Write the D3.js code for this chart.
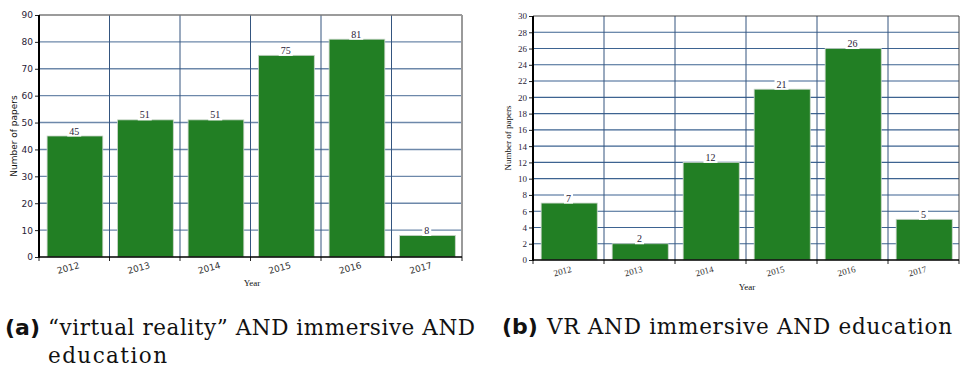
<!DOCTYPE html>
<html>
<head>
<meta charset="utf-8">
<script src="https://cdn.jsdelivr.net/npm/d3@7"></script>
<style>
  html, body { margin: 0; padding: 0; background: #fff; }
  svg { display: block; }
</style>
</head>
<body>
<svg id="fig" width="960" height="374"></svg>
<script>
// Publication counts per year for two search queries
const years = ["2012", "2013", "2014", "2015", "2016", "2017"];
const papersVirtualReality = [45, 51, 51, 75, 81, 8];
const papersVR = [7, 2, 12, 21, 26, 5];
const yTicksA = [0, 10, 20, 30, 40, 50, 60, 70, 80, 90];
const yTicksB = [0, 2, 4, 6, 8, 10, 12, 14, 16, 18, 20, 22, 24, 26, 28, 30];

const svg = d3.select("#fig");

function drawPanel(opt) {
  const g = svg.append("g");
  const x = d3.scaleBand().domain(years).range([opt.left, opt.right]).padding(0);
  const y = d3.scaleLinear().domain([0, opt.max]).range([opt.bottom, opt.top]);
  const bw = x.bandwidth();

  // horizontal grid
  g.append("g").selectAll("line").data(opt.ticks.filter(t => t > 0 && t < opt.max)).join("line")
    .attr("x1", opt.left).attr("x2", opt.right)
    .attr("y1", d => y(d)).attr("y2", d => y(d))
    .attr("stroke", opt.hGrid).attr("stroke-width", opt.hGridW);

  // vertical grid at category boundaries
  g.append("g").selectAll("line").data(years.slice(1)).join("line")
    .attr("x1", d => x(d)).attr("x2", d => x(d))
    .attr("y1", opt.top).attr("y2", opt.bottom)
    .attr("stroke", opt.vGrid).attr("stroke-width", 1);

  // frame: top and right edges
  g.append("line").attr("x1", opt.left).attr("x2", opt.right)
    .attr("y1", opt.top).attr("y2", opt.top)
    .attr("stroke", opt.topColor).attr("stroke-width", opt.topW);
  g.append("line").attr("x1", opt.right).attr("x2", opt.right)
    .attr("y1", opt.top).attr("y2", opt.bottom)
    .attr("stroke", opt.rightColor).attr("stroke-width", opt.rightW);

  // bars
  g.append("g").selectAll("rect").data(opt.values).join("rect")
    .attr("x", (d, i) => x(years[i]) + bw * 0.115)
    .attr("width", bw * 0.79)
    .attr("y", d => y(d))
    .attr("height", d => y(0) - y(d))
    .attr("fill", "#227f24")
    .attr("stroke", "#c8d4c8").attr("stroke-width", 0.8);

  // value labels with white backing
  const lab = g.append("g").selectAll("g").data(opt.values).join("g")
    .attr("transform", (d, i) => `translate(${x(years[i]) + bw / 2},${y(d) - 5})`);
  lab.append("text")
    .attr("text-anchor", "middle").attr("dy", "0.35em")
    .attr("font-family", opt.labelFont).attr("font-size", 10)
    .attr("fill", "#2a2236")
    .text(d => d)
    .each(function () {
      const b = this.getBBox();
      d3.select(this.parentNode).insert("rect", "text")
        .attr("x", b.x - 2).attr("y", b.y).attr("width", b.width + 4).attr("height", b.height)
        .attr("fill", "#fff");
    });

  // y axis
  const ya = g.append("g").attr("transform", `translate(${opt.left},0)`)
    .call(d3.axisLeft(y).tickValues(opt.ticks).tickSize(4).tickPadding(2));
  ya.select(".domain").remove();
  ya.selectAll(".tick line").attr("stroke", "#222");
  ya.selectAll(".tick text").attr("font-family", opt.tickFont).attr("font-size", 9).attr("fill", "#2a2236");
  g.append("line").attr("x1", opt.left).attr("x2", opt.left)
    .attr("y1", opt.top).attr("y2", opt.bottom + 1)
    .attr("stroke", "#000").attr("stroke-width", 2);

  // x axis
  g.append("g").selectAll("line").data(years.concat(["end"])).join("line")
    .attr("x1", (d, i) => opt.left + i * bw).attr("x2", (d, i) => opt.left + i * bw)
    .attr("y1", opt.bottom).attr("y2", opt.bottom + 4)
    .attr("stroke", "#222");
  g.append("line").attr("x1", opt.left).attr("x2", opt.right)
    .attr("y1", opt.bottom).attr("y2", opt.bottom)
    .attr("stroke", "#000").attr("stroke-width", 1.6);
  g.append("g").selectAll("text").data(years).join("text")
    .attr("transform", d => `translate(${x(d) + bw / 2 - 6},${opt.bottom + 11}) rotate(-15)`)
    .attr("text-anchor", "middle").attr("dy", "0.35em")
    .attr("font-family", opt.tickFont).attr("font-size", 9).attr("fill", "#333")
    .text(d => d);

  // axis titles
  g.append("text")
    .attr("transform", `translate(${opt.yTitleX},${(opt.top + opt.bottom) / 2}) rotate(-90)`)
    .attr("text-anchor", "middle").attr("dy", "0.35em")
    .attr("font-family", opt.titleFont).attr("font-size", 9).attr("fill", "#111")
    .text("Number of papers");
  g.append("text")
    .attr("x", opt.xTitleX).attr("y", opt.xTitleY)
    .attr("text-anchor", "middle").attr("dy", "0.35em")
    .attr("font-family", "Liberation Serif, serif").attr("font-size", 9).attr("fill", "#111")
    .text("Year");
}

drawPanel({
  values: papersVirtualReality, ticks: yTicksA, max: 90,
  left: 39, right: 462, top: 15, bottom: 257,
  hGrid: "#6d88aa", hGridW: 1.4, vGrid: "#34557f",
  topColor: "#7a7a7a", topW: 1.5, rightColor: "#9a9a9a", rightW: 2,
  labelFont: "Liberation Serif, serif", tickFont: "DejaVu Sans, sans-serif",
  titleFont: "DejaVu Sans, sans-serif",
  yTitleX: 14, xTitleX: 252, xTitleY: 283
});

drawPanel({
  values: papersVR, ticks: yTicksB, max: 30,
  left: 533, right: 959, top: 16, bottom: 260,
  hGrid: "#3d6391", hGridW: 1.1, vGrid: "#34557f",
  topColor: "#444", topW: 1, rightColor: "#444", rightW: 1,
  labelFont: "Liberation Serif, serif", tickFont: "Liberation Serif, serif",
  titleFont: "Liberation Serif, serif",
  yTitleX: 508, xTitleX: 747, xTitleY: 287
});

// sub-figure captions
const cap = svg.append("g").attr("fill", "#111");
function caption(xTag, xText, yBase, tag, lines) {
  cap.append("text").attr("x", xTag).attr("y", yBase)
    .attr("font-family", "DejaVu Sans, sans-serif").attr("font-weight", "bold").attr("font-size", 22)
    .text(tag);
  lines.forEach((l, i) => {
    cap.append("text").attr("x", xText).attr("y", yBase + i * 28)
      .attr("font-family", "DejaVu Serif, serif").attr("font-size", 21.5)
      .attr("textLength", l.w).attr("lengthAdjust", "spacing")
      .text(l.t);
  });
}
caption(5, 48, 335, "(a)", [
  { t: "\u201Cvirtual reality\u201D AND immersive AND", w: 427 },
  { t: "education", w: 119 }
]);
caption(502, 547, 334, "(b)", [{ t: "VR AND immersive AND education", w: 405 }]);
</script>
</body>
</html>
